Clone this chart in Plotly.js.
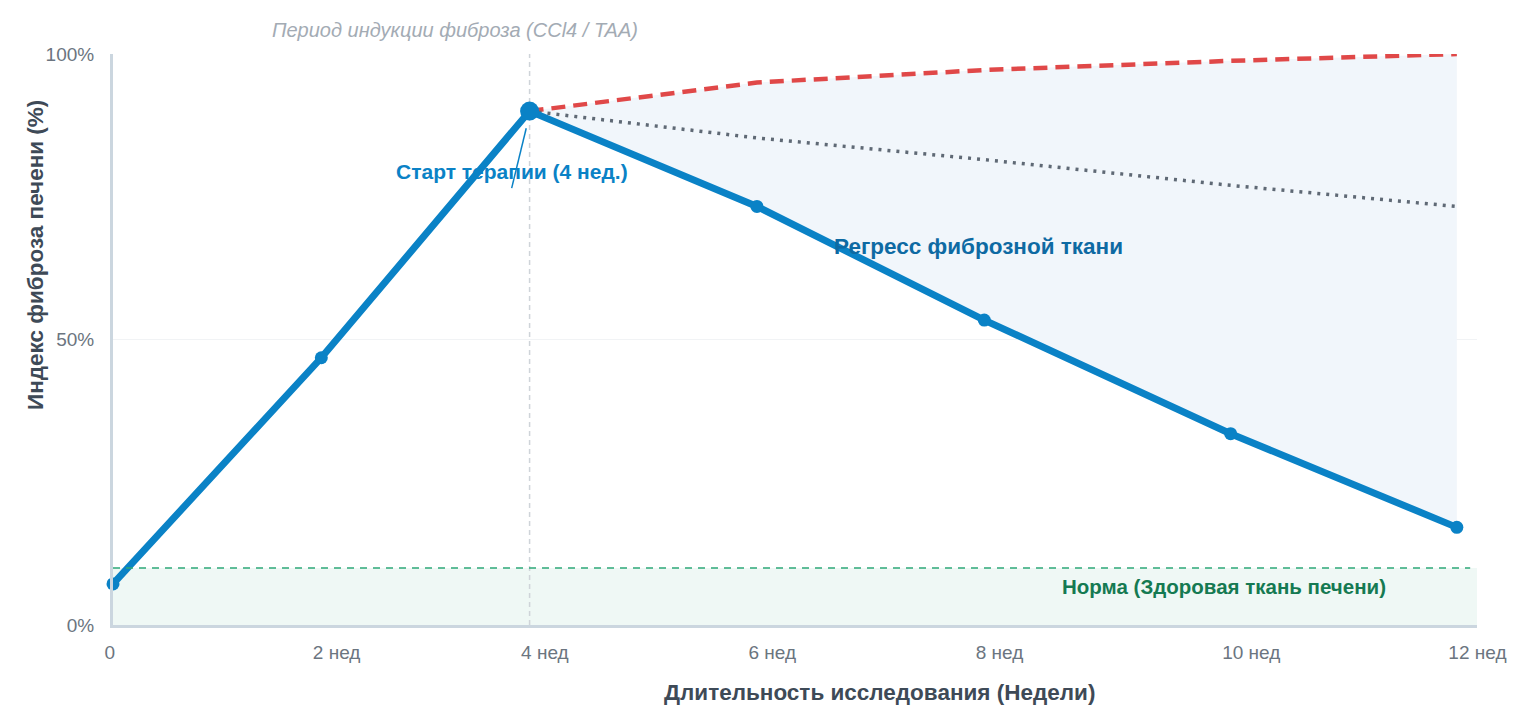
<!DOCTYPE html>
<html>
<head>
<meta charset="utf-8">
<script src="https://cdn.plot.ly/plotly-3.0.1.min.js"></script>
<style>
  html, body { margin: 0; padding: 0; background: #fff; }
  #chart { width: 1519px; height: 727px; }
</style>
</head>
<body>
<div id="chart"></div>
<script>
var weekPos = [0, 1.86, 3.72, 5.75, 7.78, 9.98, 12];
var weekLabels = ['0', '2 нед', '4 нед', '6 нед', '8 нед', '10 нед', '12 нед'];

// fibrosis index, %
var treated = [7.2, 46.8, 90, 73.3, 53.4, 33.5, 17.1];
var untreated = [90, 95, 97.2, 98.8, 100];      // weeks 4..12, no therapy
var spontaneous = [90, 85.3, 81.5, 77, 73.3];   // weeks 4..12, spontaneous regress
var normLevel = 10;
var yTicks = [0, 50, 100];
var yTickLabels = ['0%', '50%', '100%'];

var therapyStart = 2; // index of the 4-week point
var regWeeks = weekPos.slice(therapyStart);
var regValues = treated.slice(therapyStart);

var FONT = 'Liberation Sans, Arial, Helvetica, sans-serif';

var base = {
  x: regWeeks, y: regValues,
  mode: 'lines', line: {width: 0, color: 'rgba(0,0,0,0)'},
  hoverinfo: 'skip', showlegend: false, type: 'scatter'
};
var noTherapy = {
  x: regWeeks, y: untreated,
  mode: 'lines', fill: 'tonexty', fillcolor: '#f1f6fb',
  line: {color: '#e04848', width: 4.5, dash: '14px,8px'},
  name: 'Без терапии', showlegend: false, type: 'scatter', cliponaxis: false
};
var selfRegress = {
  x: regWeeks, y: spontaneous,
  mode: 'lines',
  line: {color: '#5f6975', width: 3.5, dash: '3px,6px'},
  name: 'Спонтанный регресс', showlegend: false, type: 'scatter'
};
var therapy = {
  x: weekPos, y: treated,
  mode: 'lines+markers', cliponaxis: false,
  line: {color: '#0a82c6', width: 7},
  marker: {color: '#0a82c6', opacity: 1, line: {width: 0},
           size: treated.map(function (v, i) { return i === therapyStart ? 19 : 13; })},
  name: 'Терапия', showlegend: false, type: 'scatter'
};

var layout = {
  width: 1519, height: 727,
  margin: {l: 113, r: 42, t: 54, b: 102},
  paper_bgcolor: '#fff', plot_bgcolor: '#fff',
  font: {family: FONT, color: '#6b7580', size: 19},
  showlegend: false,
  xaxis: {
    range: [0, 12.18],
    tickmode: 'array', tickvals: weekPos, ticktext: weekLabels,
    ticklabelposition: 'outside right', ticklabelshift: -10, ticklabelstandoff: 8,
    showgrid: false, zeroline: false,
    showline: true, linecolor: '#cbd6df', linewidth: 3,
    tickfont: {family: FONT, size: 19, color: '#6b7580'}
  },
  yaxis: {
    range: [0, 100],
    tickmode: 'array', tickvals: yTicks, ticktext: yTickLabels,
    showgrid: true, gridcolor: '#f1f3f5', gridwidth: 1.5,
    zeroline: false,
    showline: true, linecolor: '#cbd6df', linewidth: 3,
    ticklabelstandoff: 12,
    tickfont: {family: FONT, size: 19, color: '#6b7580'}
  },
  shapes: [
    {type: 'rect', xref: 'paper', yref: 'y', x0: 0, x1: 1, y0: 0, y1: normLevel,
     fillcolor: '#eff8f5', line: {width: 0}, layer: 'below'},
    {type: 'line', xref: 'paper', yref: 'y', x0: 0, x1: 0.995, y0: normLevel, y1: normLevel,
     line: {color: '#2ea878', width: 1.5, dash: '7px,6px'}},
    {type: 'line', xref: 'x', yref: 'paper', x0: weekPos[therapyStart], x1: weekPos[therapyStart], y0: 0, y1: 1,
     line: {color: '#cfd4d9', width: 1.5, dash: '5px,4px'}, layer: 'below'},
    {type: 'line', xref: 'x', yref: 'y',
     x0: weekPos[therapyStart] - 0.16, y0: treated[therapyStart] - 13.5,
     x1: weekPos[therapyStart] - 0.03, y1: treated[therapyStart] - 3,
     line: {color: '#0a82c6', width: 1.5}}
  ],
  annotations: [
    {xref: 'paper', yref: 'paper', xanchor: 'center', yanchor: 'middle',
     x: (455 - 113) / 1364, y: (625 - 30) / 571, showarrow: false,
     text: '<i>Период индукции фиброза (CCl4 / TAA)</i>',
     font: {family: FONT, size: 20, color: '#a3abb4'}},
    {xref: 'x', yref: 'y', xanchor: 'center', yanchor: 'middle', x: 3.56, y: 79.4, showarrow: false,
     text: '<b>Старт терапии (4 нед.)</b>',
     font: {family: FONT, size: 21, color: '#0a82c6'}},
    {xref: 'x', yref: 'y', xanchor: 'center', yanchor: 'middle', x: 7.73, y: 66.3, showarrow: false,
     text: '<b>Регресс фиброзной ткани</b>',
     font: {family: FONT, size: 22.5, color: '#0e6aa3'}},
    {xref: 'x', yref: 'y', xanchor: 'center', yanchor: 'middle', x: 9.92, y: 6.8, showarrow: false,
     text: '<b>Норма (Здоровая ткань печени)</b>',
     font: {family: FONT, size: 20.5, color: '#157a52'}},
    {xref: 'paper', yref: 'paper', xanchor: 'center', yanchor: 'middle',
     x: (35 - 113) / 1364, y: (625 - 255) / 571, showarrow: false,
     textangle: -90, text: '<b>Индекс фиброза печени (%)</b>',
     font: {family: FONT, size: 22.5, color: '#3e4a57'}},
    {xref: 'paper', yref: 'paper', xanchor: 'center', yanchor: 'middle',
     x: (880 - 113) / 1364, y: -(692 - 625) / 571, showarrow: false,
     text: '<b>Длительность исследования (Недели)</b>',
     font: {family: FONT, size: 22.5, color: '#3e4a57'}}
  ]
};

Plotly.newPlot('chart', [base, noTherapy, selfRegress, therapy], layout, {displayModeBar: false, staticPlot: true});
</script>
</body>
</html>
